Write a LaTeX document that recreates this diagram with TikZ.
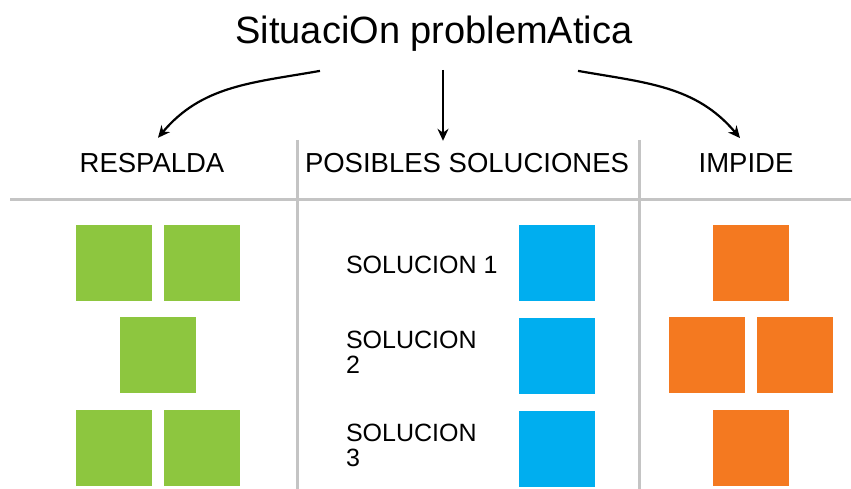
\documentclass[tikz,border=0pt]{standalone}
\usepackage{fontspec}
\setmainfont{Liberation Sans}
\usepackage{tikz}
\usetikzlibrary{arrows.meta,positioning,calc}
\definecolor{lgreen}{HTML}{8DC63F}
\definecolor{lblue}{HTML}{00AEEF}
\definecolor{lorange}{HTML}{F47920}
\definecolor{rulegray}{HTML}{C4C4C4}

\begin{document}
\begin{tikzpicture}[x=1pt,y=-1pt,inner sep=0pt,outer sep=0pt]
        \tikzset{square/.style={shape=rectangle,minimum size=76pt}}
        \tikzset{head/.style={font=\fontsize{27.5}{29}\selectfont,anchor=base}}
        \tikzset{sollabel/.style={font=\fontsize{25}{25}\selectfont,align=left}}
        \tikzset{arr/.style={line width=2.2pt,-{Stealth[length=12pt,width=11pt]}}}

        \useasboundingbox (0,0) rectangle (851,489);

        % rules of the table
        \draw[rulegray,line width=3pt] (10,200) -- (851,200);
        \draw[rulegray,line width=3pt] (297,140) -- (297,489);
        \draw[rulegray,line width=3pt] (639,140) -- (639,489);

        \node [font=\fontsize{38}{40}\selectfont,anchor=base] (title) at (434,44) {SituaciOn problemAtica};

        \node [head] (respalda) at (152,173) {RESPALDA};
        \node [head] (posibles) at (467,173) {POSIBLES SOLUCIONES};
        \node [head] (impide) at (746,173) {IMPIDE};

        \draw[arr] ([xshift=-114pt,yshift=-19pt]title.south) to[out=190,in=50] ([xshift=6pt,yshift=16pt]respalda.north);
        \draw[arr] ([xshift=9pt,yshift=-18pt]title.south) -- ([xshift=-24pt,yshift=13pt]posibles.north);
        \draw[arr] ([xshift=144pt,yshift=-19pt]title.south) to[out=-10,in=130] ([xshift=-6pt,yshift=16pt]impide.north);

        % respalda
        \node [square,fill=lgreen] (g1) at (114,263) {};
        \node [square,fill=lgreen,right=12pt of g1] (g2) {};
        \node [square,fill=lgreen] (g3) at (158,355) {};
        \node [square,fill=lgreen] (g4) at (114,448) {};
        \node [square,fill=lgreen,right=12pt of g4] (g5) {};

        % posibles soluciones
        \node [square,fill=lblue] (b1) at (557,263) {};
        \node [square,fill=lblue,below=17pt of b1] (b2) {};
        \node [square,fill=lblue,below=17pt of b2] (b3) {};
        \node [sollabel,anchor=base west] (s1) at (346,273) {SOLUCION 1};
        \node [sollabel,anchor=north west] (s2) at (346,331) {SOLUCION\\2};
        \node [sollabel,anchor=north west] (s3) at (346,424) {SOLUCION\\3};

        % impide
        \node [square,fill=lorange] (o1) at (751,263) {};
        \node [square,fill=lorange] (o2) at (707,355) {};
        \node [square,fill=lorange,right=12pt of o2] (o3) {};
        \node [square,fill=lorange] (o4) at (751,448) {};
    \end{tikzpicture}
\end{document}
